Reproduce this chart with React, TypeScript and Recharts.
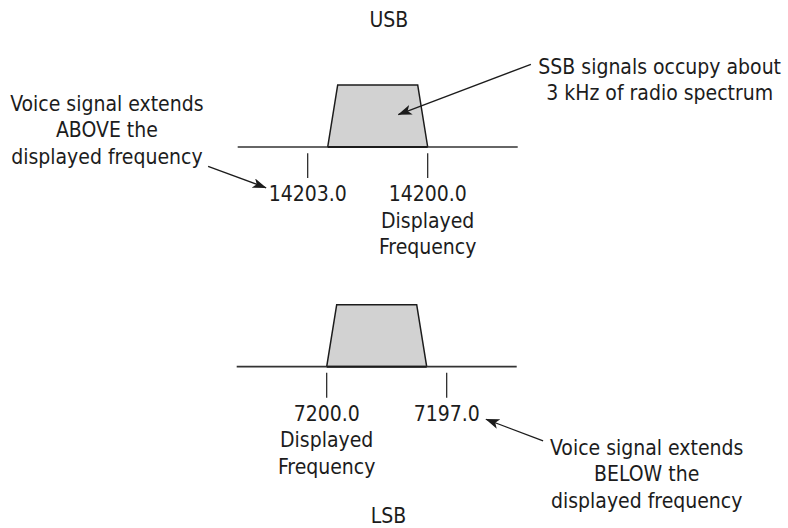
import { Area, ComposedChart, Line, ReferenceLine, Scatter, XAxis, YAxis } from "recharts";

const FONT = "'DejaVu Sans Condensed', 'Liberation Sans', Arial, sans-serif";
const INK = "#1c1c1c";
const LINE_H = 26.5;

// frequency in kHz, level is relative signal amplitude (0 = baseline, 1 = passband top)
const TICK_TOP = -0.1;
const TICK_BOTTOM = -0.5;

// ---- USB ----
const usbDomain: [number, number] = [14190.9925, 14210.6925];
const usbLevel: [number, number] = [-1.887, 2.371];
const usbPassband = [
  { f: 14202.5, a: 0 },
  { f: 14202.25, a: 1 },
  { f: 14200.25, a: 1 },
  { f: 14200, a: 0 },
];
const usbSpan = [
  { f: 14204.75, a: 0 },
  { f: 14197.75, a: 0 },
];
const usbTicks = [14203, 14200];
const usbLabels = [
  { f: 14200.97, a: 1.931, lines: ["USB"] },
  { f: 14194.2, a: 1.181, lines: ["SSB signals occupy about", "3 kHz of radio spectrum"] },
  { f: 14208.02, a: 0.581, lines: ["Voice signal extends", "ABOVE the", "displayed frequency"] },
  { f: 14203, a: -0.876, lines: ["14203.0"] },
  { f: 14200, a: -0.876, lines: ["14200.0", "Displayed", "Frequency"] },
];
const usbArrows = [
  [
    { f: 14197.42, a: 1.334 },
    { f: 14200.735, a: 0.523 },
  ],
  [
    { f: 14205.49, a: -0.311 },
    { f: 14204.04, a: -0.658 },
  ],
];

// ---- LSB ----
const lsbDomain: [number, number] = [7188.4675, 7208.1675];
const lsbLevel: [number, number] = [-2.602, 1.656];
const lsbPassband = [
  { f: 7200, a: 0 },
  { f: 7199.75, a: 1 },
  { f: 7197.75, a: 1 },
  { f: 7197.5, a: 0 },
];
const lsbSpan = [
  { f: 7202.25, a: 0 },
  { f: 7195.25, a: 0 },
];
const lsbTicks = [7200, 7197];
const lsbLabels = [
  { f: 7200, a: -0.876, lines: ["7200.0", "Displayed", "Frequency"] },
  { f: 7197, a: -0.876, lines: ["7197.0"] },
  { f: 7192.0, a: -1.424, lines: ["Voice signal extends", "BELOW the", "displayed frequency"] },
  { f: 7198.455, a: -2.52, lines: ["LSB"] },
];
const lsbArrows = [
  [
    { f: 7194.59, a: -1.198 },
    { f: 7196.02, a: -0.848 },
  ],
];

type Pt = { f: number; a: number };
type Label = Pt & { lines: string[] };

function TextBlock(props: any) {
  const { cx, cy, payload } = props;
  if (cx == null || cy == null) return null;
  return (
    <text x={cx} y={cy} textAnchor="middle" fontFamily={FONT} fontSize={21} fill={INK}>
      {payload.lines.map((line: string, i: number) => (
        <tspan key={i} x={cx} dy={i === 0 ? 0 : LINE_H}>
          {line}
        </tspan>
      ))}
    </text>
  );
}

type PanelProps = {
  domain: [number, number];
  level: [number, number];
  passband: Pt[];
  span: Pt[];
  ticks: number[];
  labels: Label[];
  arrows: Pt[][];
};

function Panel({ domain, level, passband, span, ticks, labels, arrows }: PanelProps) {
  return (
    <ComposedChart width={788} height={264} margin={{ top: 0, right: 0, bottom: 0, left: 0 }}>
      <XAxis type="number" dataKey="f" domain={domain} reversed allowDataOverflow hide />
      <YAxis type="number" domain={level} allowDataOverflow hide />
      <Area
        data={passband}
        dataKey="a"
        type="linear"
        baseValue={0}
        fill="#d2d2d2"
        fillOpacity={1}
        stroke={INK}
        strokeWidth={1.5}
        dot={false}
        activeDot={false}
        isAnimationActive={false}
      />
      <Line
        data={span}
        dataKey="a"
        type="linear"
        stroke="#333"
        strokeWidth={1.6}
        dot={false}
        activeDot={false}
        isAnimationActive={false}
      />
      {/* darker edge where the passband sits on the baseline */}
      <Line
        data={[passband[0], passband[passband.length - 1]]}
        dataKey="a"
        type="linear"
        stroke={INK}
        strokeWidth={2}
        dot={false}
        activeDot={false}
        isAnimationActive={false}
      />
      {ticks.map((t) => (
        <ReferenceLine
          key={t}
          segment={[
            { x: t, y: TICK_TOP },
            { x: t, y: TICK_BOTTOM },
          ]}
          stroke={INK}
          strokeWidth={1.2}
        />
      ))}
      {arrows.map((arr, i) => (
        <Line
          key={`arrow-${i}`}
          data={arr}
          dataKey="a"
          type="linear"
          stroke={INK}
          strokeWidth={1.3}
          dot={false}
          activeDot={false}
          markerEnd="url(#arrowhead)"
          isAnimationActive={false}
        />
      ))}
      <Scatter data={labels} dataKey="a" shape={TextBlock} isAnimationActive={false} />
    </ComposedChart>
  );
}

export default function App() {
  return (
    <div style={{ position: "absolute", left: 0, top: 0, width: 788, height: 528, background: "#fff" }}>
      <svg width={0} height={0} style={{ position: "absolute" }}>
        <defs>
          <marker
            id="arrowhead"
            viewBox="0 0 14 10"
            refX="13.5"
            refY="5"
            markerWidth="14"
            markerHeight="10"
            markerUnits="userSpaceOnUse"
            orient="auto"
          >
            <path d="M0,0 L14,5 L0,10 L3.5,5 Z" fill={INK} />
          </marker>
        </defs>
      </svg>
      <Panel
        domain={usbDomain}
        level={usbLevel}
        passband={usbPassband}
        span={usbSpan}
        ticks={usbTicks}
        labels={usbLabels}
        arrows={usbArrows}
      />
      <Panel
        domain={lsbDomain}
        level={lsbLevel}
        passband={lsbPassband}
        span={lsbSpan}
        ticks={lsbTicks}
        labels={lsbLabels}
        arrows={lsbArrows}
      />
    </div>
  );
}
